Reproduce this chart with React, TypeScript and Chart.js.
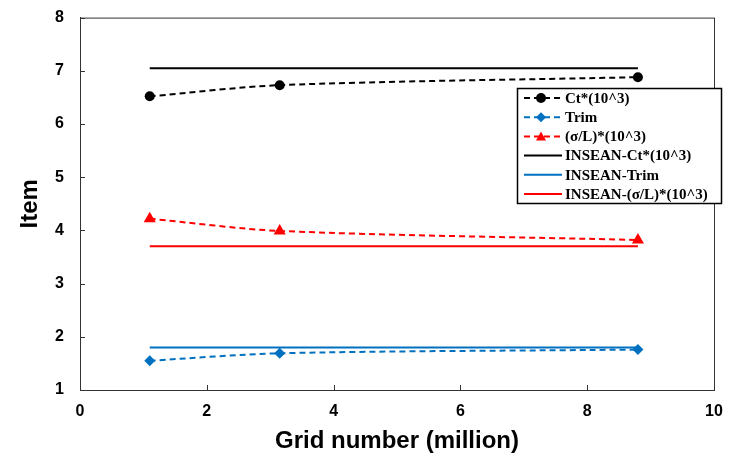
import React, { useEffect, useRef } from "react";
import { Chart, registerables } from "chart.js";

Chart.register(...registerables);

const gridX = [1.1, 3.15, 8.8];
const ctValues = [6.52, 6.73, 6.88];
const trimValues = [1.55, 1.69, 1.76];
const sigmaValues = [4.22, 3.99, 3.82];
const inseanX = [1.1, 8.8];
const inseanCt = [7.05, 7.05];
const inseanTrim = [1.8, 1.8];
const inseanSigma = [3.7, 3.7];
const seriesLabels = [
  "Ct*(10^3)",
  "Trim",
  "(σ/L)*(10^3)",
  "INSEAN-Ct*(10^3)",
  "INSEAN-Trim",
  "INSEAN-(σ/L)*(10^3)",
];
const xTicks = [0, 2, 4, 6, 8, 10];
const yTicks = [1, 2, 3, 4, 5, 6, 7, 8];

const BLUE = "#0070c0";
const RED = "#ff0000";
const BLACK = "#000000";
const AXIS = "#333333";

const toPts = (xs: number[], ys: number[]) => xs.map((x, i) => ({ x, y: ys[i] }));

const framePlugin = {
  id: "frame",
  afterDraw(chart: any) {
    const { ctx, chartArea: a, scales } = chart;
    ctx.save();
    ctx.strokeStyle = AXIS;
    ctx.lineWidth = 1;
    ctx.strokeRect(a.left + 0.5, a.top + 0.5, a.right - a.left, a.bottom - a.top);
    ctx.beginPath();
    for (const v of xTicks) {
      const px = Math.round(scales.x.getPixelForValue(v)) + 0.5;
      ctx.moveTo(px, a.bottom);
      ctx.lineTo(px, a.bottom - 5);
    }
    for (const v of yTicks) {
      const py = Math.round(scales.y.getPixelForValue(v)) + 0.5;
      ctx.moveTo(a.left, py);
      ctx.lineTo(a.left + 5, py);
    }
    ctx.stroke();

    // legend
    const bx = 517, by = 88, bw = 204, bh = 115;
    ctx.fillStyle = "#fff";
    ctx.fillRect(bx, by, bw, bh);
    ctx.lineWidth = 1.5;
    ctx.strokeStyle = "#000";
    ctx.strokeRect(bx + 0.5, by + 0.5, bw, bh);
    ctx.font = "bold 15px 'Liberation Serif', serif";
    ctx.textBaseline = "middle";
    chart.data.datasets.forEach((ds: any, i: number) => {
      const y = by + 10 + i * 19.2;
      ctx.strokeStyle = ds.borderColor;
      ctx.lineWidth = 2;
      ctx.setLineDash(ds.borderDash || []);
      ctx.beginPath();
      ctx.moveTo(524, y);
      ctx.lineTo(562, y);
      ctx.stroke();
      ctx.setLineDash([]);
      if (ds.pointRadius > 0) {
        ctx.fillStyle = ds.pointBackgroundColor;
        const r = 5;
        ctx.beginPath();
        if (ds.pointStyle === "circle") {
          ctx.arc(541, y, r, 0, Math.PI * 2);
        } else if (ds.pointStyle === "rectRot") {
          ctx.moveTo(541, y - r);
          ctx.lineTo(541 + r, y);
          ctx.lineTo(541, y + r);
          ctx.lineTo(541 - r, y);
          ctx.closePath();
        } else if (ds.pointStyle === "triangle") {
          ctx.moveTo(541, y - r);
          ctx.lineTo(541 + r, y + r * 0.8);
          ctx.lineTo(541 - r, y + r * 0.8);
          ctx.closePath();
        }
        ctx.fill();
      }
      ctx.fillStyle = "#000";
      ctx.fillText(ds.label, 565, y + 1);
    });
    ctx.restore();
  },
};

export default function App() {
  const ref = useRef<HTMLCanvasElement>(null);
  useEffect(() => {
    const chart = new Chart(ref.current!, {
      type: "scatter",
      data: {
        datasets: [
          {
            label: seriesLabels[0],
            data: toPts(gridX, ctValues),
            showLine: true,
            borderColor: BLACK,
            borderWidth: 2,
            borderDash: [6, 4],
            tension: 0.3,
            pointStyle: "circle",
            pointRadius: 5,
            pointBorderWidth: 0,
            pointBackgroundColor: BLACK,
            pointBorderColor: BLACK,
          },
          {
            label: seriesLabels[1],
            data: toPts(gridX, trimValues),
            showLine: true,
            borderColor: BLUE,
            borderWidth: 2,
            borderDash: [6, 4],
            tension: 0.3,
            pointStyle: "rectRot",
            pointRadius: 5.5,
            pointBorderWidth: 0,
            pointBackgroundColor: BLUE,
            pointBorderColor: BLUE,
          },
          {
            label: seriesLabels[2],
            data: toPts(gridX, sigmaValues),
            showLine: true,
            borderColor: RED,
            borderWidth: 2,
            borderDash: [6, 4],
            tension: 0.3,
            pointStyle: "triangle",
            pointRadius: 7,
            pointBorderWidth: 0,
            pointBackgroundColor: RED,
            pointBorderColor: RED,
          },
          {
            label: seriesLabels[3],
            data: toPts(inseanX, inseanCt),
            showLine: true,
            borderColor: BLACK,
            borderWidth: 2,
            pointRadius: 0,
          },
          {
            label: seriesLabels[4],
            data: toPts(inseanX, inseanTrim),
            showLine: true,
            borderColor: BLUE,
            borderWidth: 2,
            pointRadius: 0,
          },
          {
            label: seriesLabels[5],
            data: toPts(inseanX, inseanSigma),
            showLine: true,
            borderColor: RED,
            borderWidth: 2,
            pointRadius: 0,
          },
        ] as any,
      },
      options: {
        animation: false,
        responsive: false,
        layout: { padding: { top: 16, right: 20, left: 0, bottom: 0 } },
        plugins: { legend: { display: false }, tooltip: { enabled: false } },
        scales: {
          x: {
            type: "linear",
            min: 0,
            max: 10,
            afterBuildTicks: (s: any) => {
              s.ticks = xTicks.map((v) => ({ value: v }));
            },
            afterFit: (s: any) => {
              s.height = 66;
            },
            grid: { display: false },
            border: { display: true, color: AXIS },
            ticks: {
              color: "#000",
              padding: 4,
              font: { family: "'Liberation Sans', Arial, sans-serif", size: 16, weight: "bold" },
            },
            title: {
              display: true,
              text: "Grid number (million)",
              color: "#000",
              padding: { top: 0, bottom: 0 },
              font: { family: "'Liberation Sans', Arial, sans-serif", size: 24, weight: "bold" },
            },
          },
          y: {
            type: "linear",
            min: 1,
            max: 8,
            afterBuildTicks: (s: any) => {
              s.ticks = yTicks.map((v) => ({ value: v }));
            },
            afterFit: (s: any) => {
              s.width = 80;
            },
            grid: { display: false },
            border: { display: true, color: AXIS },
            ticks: {
              color: "#000",
              padding: 8,
              font: { family: "'Liberation Sans', Arial, sans-serif", size: 16, weight: "bold" },
            },
            title: {
              display: true,
              text: "Item",
              color: "#000",
              padding: { top: 16, bottom: 0 },
              font: { family: "'Liberation Sans', Arial, sans-serif", size: 24, weight: "bold" },
            },
          },
        },
      },
      plugins: [framePlugin],
    });
    return () => chart.destroy();
  }, []);
  return (
    <div style={{ position: "fixed", left: 0, top: 0, width: 734, height: 456, background: "#fff" }}>
      <canvas ref={ref} width={734} height={456} />
    </div>
  );
}
